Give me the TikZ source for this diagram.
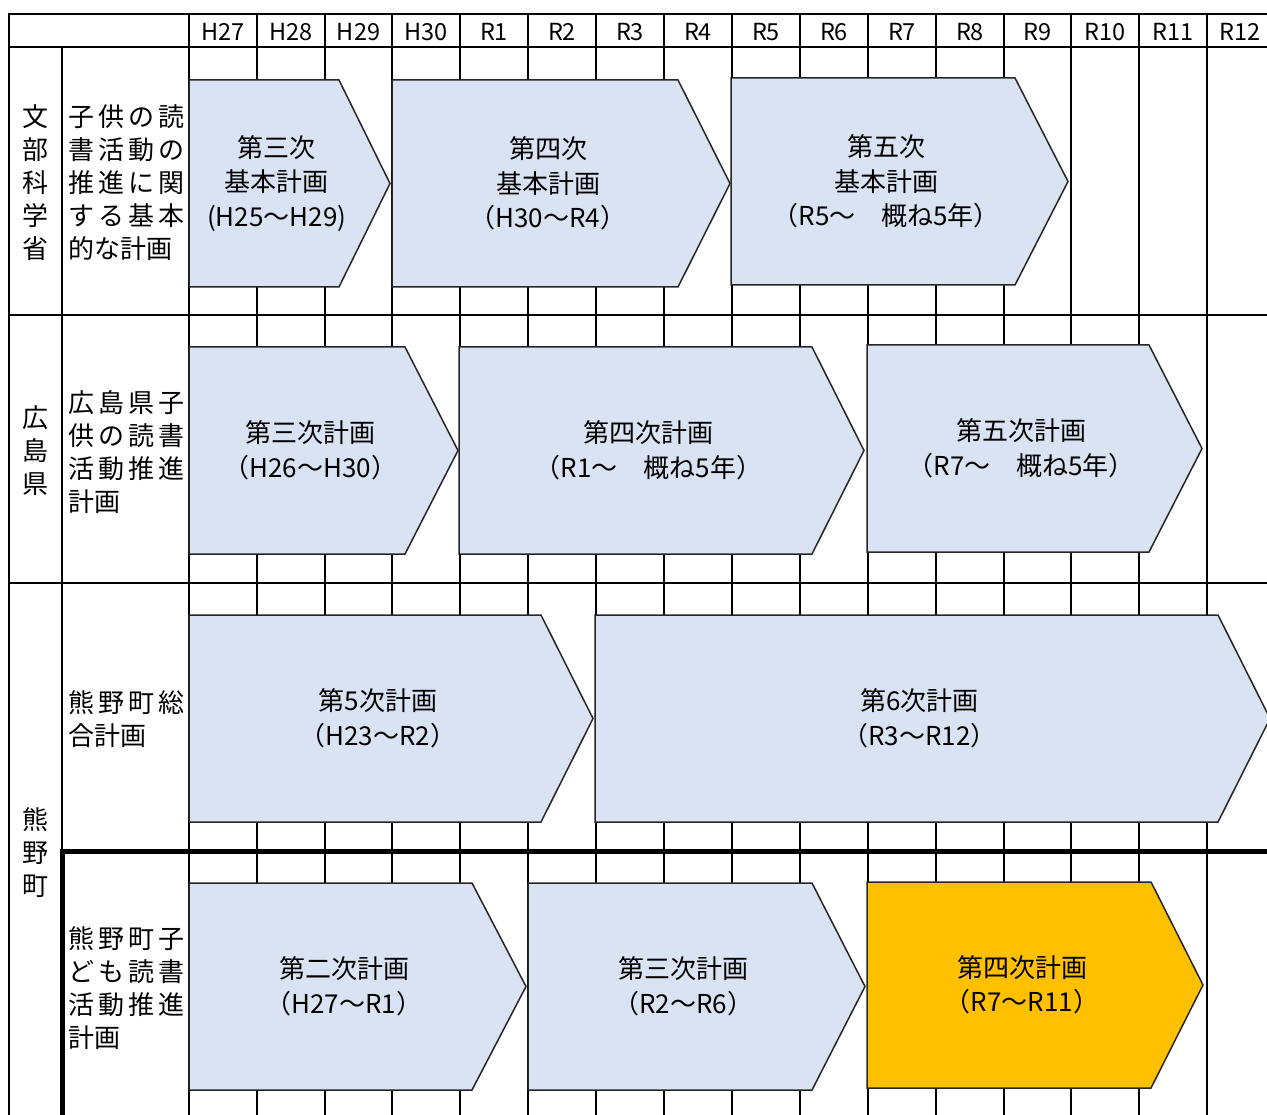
\documentclass[tikz,border=0pt]{standalone}
\usepackage{fontspec}
\setmainfont{Noto Sans CJK JP}
\definecolor{planblue}{HTML}{DAE3F3}
\definecolor{planorange}{HTML}{FFC000}
\tikzset{
  gridline/.style={line width=2pt, black},
  thickline/.style={line width=5pt, black},
  planshape/.style={draw=black!85, line width=1.5pt, fill=planblue, line join=miter},
  plancurrent/.style={planshape, fill=planorange},
  plantxt/.style={font=\fontsize{26}{34.5}\selectfont, align=center, inner sep=0pt, text=black},
  yearlbl/.style={font=\fontsize{23.5}{26}\selectfont, inner sep=0pt},
  rowhead/.style={font=\fontsize{26}{33}\selectfont, align=left, inner sep=0pt, anchor=west},
  orghead/.style={font=\fontsize{26}{33}\selectfont, align=center, inner sep=0pt},
}
\newcommand\planarrow[8]{%
  \draw[#1] (#3,#6) -- (#4,#6) -- (#5,{(#6+#7)/2}) -- (#4,#7) -- (#3,#7) -- cycle;
  \node[plantxt] (#2) at ({(#3+(#4+#5)/2)/2},{(#6+#7)/2}) {#8};
}
\newcommand\spr[1]{\makebox[116pt][s]{#1}}
\begin{document}
\begin{tikzpicture}[x=1pt,y=-1pt]
\useasboundingbox (0,0) rectangle (1267,1115);
\clip (0,0) rectangle (1267,1115);
% column lines
\foreach \cx in {189,257,325,392,460,528,596,664,732,800,868,936,1004,1071,1139,1207}
  \draw[gridline] (\cx,14) -- (\cx,1115);
% horizontal lines
\draw[gridline] (9,14) -- (1267,14);
\draw[gridline] (9,47) -- (1267,47);
\draw[gridline] (9,315) -- (1267,315);
\draw[gridline] (9,583) -- (1267,583);
\draw[gridline] (9,13) -- (9,1115);
\draw[gridline] (62,47) -- (62,851);
\draw[thickline] (62,851) -- (1267,851);
\draw[thickline] (62,848.5) -- (62,1115);
% year labels
\foreach \lbl/\cx in {H27/223,H28/291,H29/358.5,H30/426,R1/494,R2/562,R3/630,R4/698,R5/766,R6/834,R7/902,R8/970,R9/1037.5,R10/1105,R11/1173,R12/1240}
  \node[yearlbl] (y\lbl) at (\cx,32) {\lbl};
% organisation column
\node[orghead] (orgmext) at (35,183) {文\\部\\科\\学\\省};
\node[orghead] (orghiro) at (35,451) {広\\島\\県};
\node[orghead] (orgkuma) at (35,853) {熊\\野\\町};
% plan name column
\node[rowhead] (rp1) at (68,183) {\spr{子\hfill 供\hfill の\hfill 読}\\\spr{書\hfill 活\hfill 動\hfill の}\\\spr{推\hfill 進\hfill に\hfill 関}\\\spr{す\hfill る\hfill 基\hfill 本}\\的な計画};
\node[rowhead] (rp2) at (68,452.5) {\spr{広\hfill 島\hfill 県\hfill 子}\\\spr{供\hfill の\hfill 読\hfill 書}\\\spr{活\hfill 動\hfill 推\hfill 進}\\計画};
\node[rowhead] (rp3) at (68,719.5) {\spr{熊\hfill 野\hfill 町\hfill 総}\\合計画};
\node[rowhead] (rp4) at (68,988.5) {\spr{熊\hfill 野\hfill 町\hfill 子}\\\spr{ど\hfill も\hfill 読\hfill 書}\\\spr{活\hfill 動\hfill 推\hfill 進}\\計画};
% row 1
\planarrow{planshape}{a1}{189}{339}{390}{80}{287}{第三次\\基本計画\\(H25～H29)}
\planarrow{planshape}{a2}{392}{678}{730}{80}{287}{第四次\\基本計画\\（H30～R4）}
\planarrow{planshape}{a3}{731}{1015}{1068}{78}{285}{第五次\\基本計画\\（R5～　概ね5年）}
% row 2
\planarrow{planshape}{b1}{189}{405}{458}{347}{554}{第三次計画\\（H26～H30）}
\planarrow{planshape}{b2}{459}{812}{864}{347}{554}{第四次計画\\（R1～　概ね5年）}
\planarrow{planshape}{b3}{867}{1149}{1202}{345}{552}{第五次計画\\（R7～　概ね5年）}
% row 3
\planarrow{planshape}{c1}{189}{541}{593}{615}{822}{第5次計画\\（H23～R2）}
\planarrow{planshape}{c2}{595}{1218}{1270}{615}{822}{第6次計画\\（R3～R12）}
% row 4
\planarrow{planshape}{d1}{189}{472}{526}{883}{1090}{第二次計画\\（H27～R1）}
\planarrow{planshape}{d2}{528}{812}{865}{883}{1090}{第三次計画\\（R2～R6）}
\planarrow{plancurrent}{d3}{867}{1151}{1203}{882}{1088}{第四次計画\\（R7～R11）}
\end{tikzpicture}
\end{document}
